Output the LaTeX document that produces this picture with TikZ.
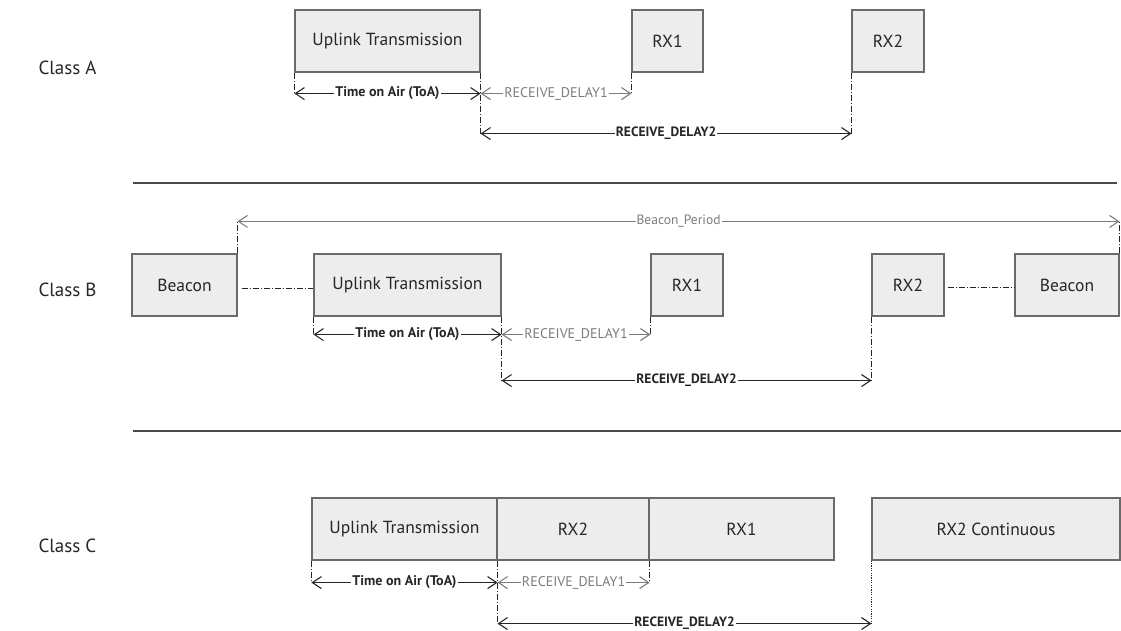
\documentclass[tikz,border=0pt]{standalone}
\usepackage{fontspec}
\setmainfont{PT Sans}
\usetikzlibrary{arrows.meta}
\definecolor{boxfill}{HTML}{EDEDED}
\definecolor{boxline}{HTML}{6A6A6A}
\definecolor{ink}{HTML}{262626}
\definecolor{soft}{HTML}{7C7C7C}
\definecolor{rule}{HTML}{4A4A4A}

\begin{document}
\begin{tikzpicture}[x=1pt,y=-1pt,
  slot/.style={draw=boxline, line width=1.1pt, fill=boxfill, minimum height=62pt,
    inner sep=0pt, text=ink, font=\fontsize{17.5}{17.5}\selectfont},
  classlbl/.style={anchor=west, text=ink, font=\fontsize{19}{19}\selectfont},
  guide/.style={draw=ink, line width=0.8pt, dash pattern=on 6pt off 2pt on 1pt off 2pt},
  dotguide/.style={draw=ink, line width=0.8pt, dash pattern=on 1.2pt off 1.2pt},
  barb/.tip={Straight Barb[length=9pt,width=12pt,line width=1.1pt]},
  dim/.style={draw=ink, line width=1pt, barb-barb},
  softdim/.style={draw=soft, line width=1pt, barb-barb},
  boldlbl/.style={fill=white, inner sep=1pt, text=ink, font=\bfseries\fontsize{14}{14}\selectfont},
  boldlbl2/.style={fill=white, inner sep=1pt, text=ink, font=\bfseries\fontsize{13.5}{13.5}\selectfont},
  softlbl/.style={fill=white, inner sep=1pt, text=soft, font=\fontsize{14}{14}\selectfont},
  periodlbl/.style={fill=white, inner sep=1pt, text=soft, font=\fontsize{13.5}{13.5}\selectfont},
  sep/.style={draw=rule, line width=1.3pt}
]
\useasboundingbox (0,0) rectangle (1121,631);

% ---------------- Class A ----------------
\node[classlbl] (lblA) at (35,68) {Class A};
\node[slot, minimum width=185pt] (upA)  at (387.5,41) {Uplink Transmission};
\node[slot, minimum width=71pt]  (rx1A) at (667.5,41) {RX1};
\node[slot, minimum width=72pt]  (rx2A) at (888,41)   {RX2};

\path (upA.south west) ++(0,21) coordinate (a1);
\path (upA.south east) ++(0,21) coordinate (a2);
\path (upA.south east) ++(0,61) coordinate (a3);
\coordinate (a4) at (rx1A.south west |- a2);
\coordinate (a5) at (rx2A.south west |- a3);

\draw[guide] (upA.south west) -- (a1);
\draw[guide] (upA.south east) -- (a3);
\draw[guide] (rx1A.south west) -- (a4);
\draw[guide] (rx2A.south west) -- (a5);
\draw[dim] (a1) -- node[boldlbl] {Time on Air (ToA)} (a2);
\draw[softdim] (a2) -- node[softlbl] {RECEIVE\_DELAY1} (a4);
\draw[dim] (a3) -- node[boldlbl2] {RECEIVE\_DELAY2} (a5);

\coordinate (s1a) at (133,183);
\coordinate (s1b) at (1117,183);
\draw[sep] (s1a) -- (s1b);

% ---------------- Class B ----------------
\node[classlbl] (lblB) at (35,290) {Class B};
\node[slot, minimum width=105pt] (bcnL) at (184.5,285) {Beacon};
\node[slot, minimum width=187pt] (upB)  at (407.5,285) {Uplink Transmission};
\node[slot, minimum width=72pt]  (rx1B) at (687,285)   {RX1};
\node[slot, minimum width=72pt]  (rx2B) at (908,285)   {RX2};
\node[slot, minimum width=104pt] (bcnR) at (1067,285)  {Beacon};

\draw[guide] (bcnL.east) ++(4,3) -- (upB.west |- {(0,288)});
\draw[guide] (rx2B.east) ++(3,2) -- (bcnR.west |- {(0,287)});

\path (bcnL.north east) ++(0,-32) coordinate (p1);
\coordinate (p2) at (bcnR.north east |- p1);
\draw[guide] (bcnL.north east) -- (p1);
\draw[guide] (bcnR.north east) -- (p2);
\draw[softdim] (p1) -- node[periodlbl] {Beacon\_Period} (p2);

\path (upB.south west) ++(0,18) coordinate (b1);
\path (upB.south east) ++(0,18) coordinate (b2);
\path (upB.south east) ++(0,64) coordinate (b3);
\coordinate (b4) at (rx1B.south west |- b2);
\coordinate (b5) at (rx2B.south west |- b3);

\draw[guide] (upB.south west) -- (b1);
\draw[guide] (upB.south east) -- (b3);
\draw[guide] (rx1B.south west) -- (b4);
\draw[guide] (rx2B.south west) -- (b5);
\draw[dim] (b1) -- node[boldlbl] {Time on Air (ToA)} (b2);
\draw[softdim] (b2) -- node[softlbl] {RECEIVE\_DELAY1} (b4);
\draw[dim] (b3) -- node[boldlbl2] {RECEIVE\_DELAY2} (b5);

\coordinate (s2a) at (133,431);
\coordinate (s2b) at (1121,431);
\draw[sep] (s2a) -- (s2b);

% ---------------- Class C ----------------
\node[classlbl] (lblC) at (35,546) {Class C};
\node[slot, minimum width=185pt] (upC)  at (404.5,529) {Uplink Transmission};
\node[slot, minimum width=152pt] (rx2C) at (573,529)   {RX2};
\node[slot, minimum width=185pt] (rx1C) at (741.5,529) {RX1};
\node[slot, minimum width=248pt] (rxcC) at (996,529)   {RX2 Continuous};

\path (upC.south west) ++(0,22) coordinate (c1);
\path (upC.south east) ++(0,22) coordinate (c2);
\path (upC.south east) ++(0,63) coordinate (c3);
\coordinate (c4) at (rx2C.south east |- c2);
\coordinate (c5) at (rxcC.south west |- c3);

\draw[guide] (upC.south west) -- (c1);
\draw[guide] (upC.south east) -- (c3);
\draw[guide] (rx2C.south east) -- (c4);
\draw[dotguide] (rxcC.south west) -- (c5);
\draw[dim] (c1) -- node[boldlbl] {Time on Air (ToA)} (c2);
\draw[softdim] (c2) -- node[softlbl] {RECEIVE\_DELAY1} (c4);
\draw[dim] (c3) -- node[boldlbl2] {RECEIVE\_DELAY2} (c5);
\end{tikzpicture}
\end{document}
